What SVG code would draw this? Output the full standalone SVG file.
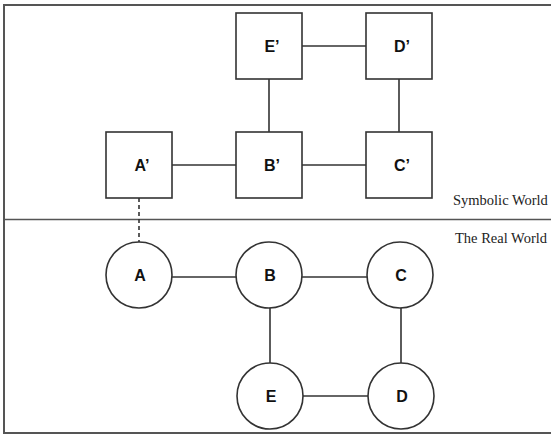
<svg xmlns="http://www.w3.org/2000/svg" width="551" height="435" viewBox="0 0 551 435">
<style>
.frame{fill:none;stroke:#555;stroke-width:2}
.sep{stroke:#555;stroke-width:1.5}
.node rect,.node circle{fill:#fff;stroke:#333;stroke-width:1.6}
.node text{font-family:"Liberation Sans",Arial,sans-serif;font-weight:bold;font-size:16px;fill:#111;text-anchor:middle}
.edges line{stroke:#333;stroke-width:1.6}
.dash{stroke-dasharray:4 3}
.world{font-family:"Liberation Serif","Times New Roman",serif;font-size:14.5px;fill:#222}
</style>
<rect x="0" y="0" width="551" height="435" fill="#fff"/>
<rect class="frame" x="4" y="5" width="570" height="428"/>
<line class="sep" x1="4" y1="219.5" x2="551" y2="219.5"/>
<text class="world" x="453" y="205">Symbolic World</text>
<text class="world" x="455" y="243">The Real World</text>
<g class="edges">
<line x1="172" y1="165" x2="236" y2="165"/>
<line x1="302" y1="165" x2="366" y2="165"/>
<line x1="302" y1="46" x2="366" y2="46"/>
<line x1="269" y1="79" x2="269" y2="132"/>
<line x1="399" y1="79" x2="399" y2="132"/>
<line class="dash" x1="139" y1="198" x2="139" y2="242"/>
<line x1="172" y1="277" x2="236" y2="277"/>
<line x1="302" y1="277" x2="367" y2="277"/>
<line x1="270" y1="308" x2="270" y2="363"/>
<line x1="401" y1="308" x2="401" y2="363"/>
<line x1="303" y1="396" x2="368" y2="396"/>
</g>
<g id="node-Ap" class="node"><rect x="106" y="132" width="66" height="66"/><text x="142" y="171">A’</text></g>
<g id="node-Bp" class="node"><rect x="236" y="132" width="66" height="66"/><text x="272" y="171">B’</text></g>
<g id="node-Cp" class="node"><rect x="366" y="132" width="66" height="66"/><text x="402" y="171">C’</text></g>
<g id="node-Ep" class="node"><rect x="236" y="13" width="66" height="66"/><text x="272" y="52">E’</text></g>
<g id="node-Dp" class="node"><rect x="366" y="13" width="66" height="66"/><text x="402" y="52">D’</text></g>
<g id="node-A" class="node"><circle cx="139" cy="275" r="33"/><text x="140" y="281">A</text></g>
<g id="node-B" class="node"><circle cx="269" cy="275" r="33"/><text x="270" y="281">B</text></g>
<g id="node-C" class="node"><circle cx="400" cy="275" r="33"/><text x="401" y="281">C</text></g>
<g id="node-E" class="node"><circle cx="270" cy="396" r="33"/><text x="271" y="402">E</text></g>
<g id="node-D" class="node"><circle cx="401" cy="396" r="33"/><text x="402" y="402">D</text></g>
</svg>
